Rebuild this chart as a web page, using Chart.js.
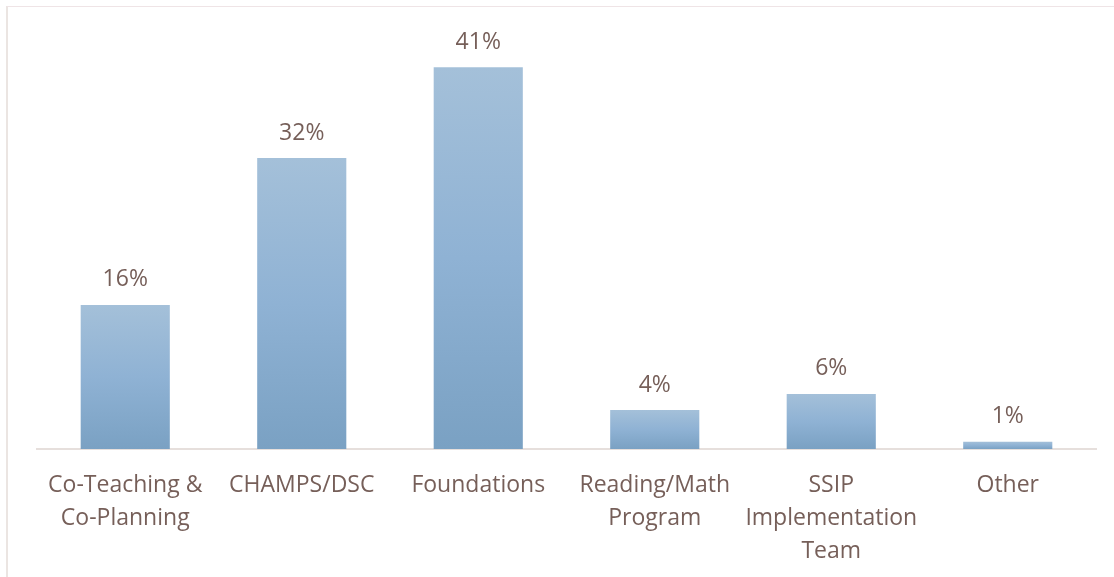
<!DOCTYPE html>
<html>
<head>
<meta charset="utf-8">
<script src="https://cdn.jsdelivr.net/npm/chart.js@4"></script>
<style>
  html, body { margin: 0; padding: 0; background: #ffffff; }
  #wrap { position: relative; width: 1114px; height: 577px; overflow: hidden; }
  #frame { position: absolute; left: 6px; top: 6px; width: 1108px; height: 571px;
           border-top: 1px solid #efe4e6; border-left: 2px solid #ebe5e2; box-sizing: border-box; }
  canvas { position: absolute; left: 0; top: 0; }
</style>
</head>
<body>
<div id="wrap">
  <div id="frame"></div>
  <canvas id="c" width="1114" height="577"></canvas>
</div>
<script>
const categories = [
  ["Co-Teaching &", "Co-Planning"],
  ["CHAMPS/DSC"],
  ["Foundations"],
  ["Reading/Math", "Program"],
  ["SSIP", "Implementation", "Team"],
  ["Other"]
];
const values = [15.7, 31.7, 41.6, 4.25, 6.0, 0.8];
const valueLabels = ["16%", "32%", "41%", "4%", "6%", "1%"];

const textColor = "#765f59";
const fontFamily = "'Open Sans', Lato, sans-serif";

function barGradient(context) {
  const chart = context.chart;
  const yScale = chart.scales && chart.scales.y;
  if (!yScale || context.parsed === undefined) return "#8fb0cf";
  const top = yScale.getPixelForValue(context.parsed.y);
  const base = yScale.getPixelForValue(0);
  if (!isFinite(top) || !isFinite(base) || base - top < 1) return "#8fb0cf";
  const g = chart.ctx.createLinearGradient(0, top, 0, base);
  g.addColorStop(0, "#a4c0d9");
  g.addColorStop(0.5, "#8fb2d4");
  g.addColorStop(1, "#7aa1c3");
  return g;
}

const valueLabelPlugin = {
  id: "valueLabels",
  afterDatasetsDraw(chart) {
    const ctx = chart.ctx;
    const meta = chart.getDatasetMeta(0);
    ctx.save();
    ctx.fillStyle = textColor;
    ctx.font = "23px " + fontFamily;
    ctx.textAlign = "center";
    ctx.textBaseline = "middle";
    meta.data.forEach((bar, i) => {
      ctx.fillText(valueLabels[i], bar.x, bar.y - 25);
    });
    ctx.restore();
  }
};

new Chart(document.getElementById("c"), {
  type: "bar",
  data: {
    labels: categories,
    datasets: [{
      data: values,
      backgroundColor: barGradient,
      borderWidth: 0,
      barPercentage: 0.505,
      categoryPercentage: 1.0
    }]
  },
  options: {
    responsive: false,
    animation: false,
    devicePixelRatio: 1,
    layout: { padding: { left: 37, right: 18, top: 36, bottom: 0 } },
    plugins: {
      legend: { display: false },
      tooltip: { enabled: false },
      title: { display: false }
    },
    scales: {
      x: {
        grid: { display: false },
        border: { display: true, color: "#e6dfdc", width: 2 },
        ticks: {
          color: textColor,
          font: { family: fontFamily, size: 23, lineHeight: 1.435 },
          padding: 12,
          maxRotation: 0,
          autoSkip: false
        },
        afterFit(scale) { scale.height = 128; }
      },
      y: {
        display: false,
        min: 0,
        max: 45
      }
    }
  },
  plugins: [valueLabelPlugin]
});
</script>
</body>
</html>
